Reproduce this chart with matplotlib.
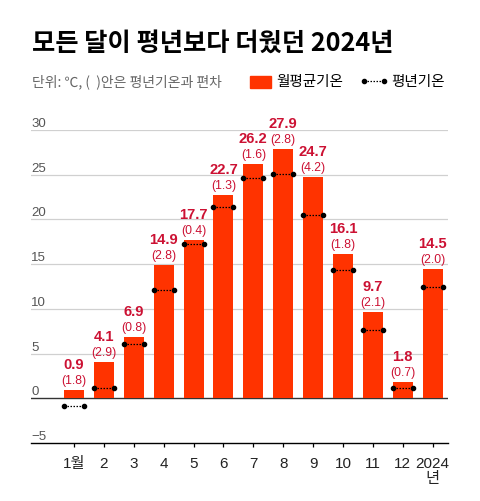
import matplotlib
matplotlib.use("Agg")
import matplotlib.pyplot as plt
import matplotlib.transforms as mtransforms

plt.rcParams['font.family'] = ['Noto Sans CJK KR', 'DejaVu Sans']
num_font = ['Liberation Sans', 'Noto Sans CJK KR']

months = ['1월', '2', '3', '4', '5', '6', '7', '8', '9', '10', '11', '12', '2024\n년']
avg_temp = [0.9, 4.1, 6.9, 14.9, 17.7, 22.7, 26.2, 27.9, 24.7, 16.1, 9.7, 1.8, 14.5]
deviation = [1.8, 2.9, 0.8, 2.8, 0.4, 1.3, 1.6, 2.8, 4.2, 1.8, 2.1, 0.7, 2.0]
normal_temp = [-0.9, 1.2, 6.1, 12.1, 17.3, 21.4, 24.6, 25.1, 20.5, 14.3, 7.6, 1.1, 12.5]
yticks = [-5, 0, 5, 10, 15, 20, 25, 30]

bar_color = '#ff3300'
label_color = '#cc1133'
w = 0.67

fig = plt.figure(figsize=(4.8, 5.02), dpi=100)
ax = fig.add_axes([0.0646, 0.1155, 0.8687, 0.6235])

x = list(range(len(months)))
ax.bar(x, avg_temp, width=w, color=bar_color, zorder=2)

# 평년기온 marker: dotted line with dots at the ends
for i, n in zip(x, normal_temp):
    ax.plot([i - w / 2, i + w / 2], [n, n], ls=(0, (1.2, 1.2)), lw=0.9,
            color='black', marker='o', ms=3, zorder=3)

# value labels
for i, v, d in zip(x, avg_temp, deviation):
    ax.annotate(f'{v}', (i, v), xytext=(0, 18.7), textcoords='offset points',
                ha='center', va='center', fontsize=10.6, fontweight='bold',
                family=num_font, color=label_color, annotation_clip=False)
    ax.annotate(f'({d})', (i, v), xytext=(0, 7.2), textcoords='offset points',
                ha='center', va='center', fontsize=8.8, family=num_font,
                color=label_color, annotation_clip=False)

ax.set_xlim(-1.438, 12.51)
ax.set_ylim(-5, 30)

# grid lines + y labels above the lines
trans = mtransforms.blended_transform_factory(ax.transAxes, ax.transData)
for t in yticks:
    if t == 0:
        ax.axhline(0, color='#333333', lw=1.0, zorder=1)
    elif t > -5:
        ax.axhline(t, color='#d0d0d0', lw=0.9, zorder=0)
    lbl = str(t).replace('-', '\u2212')
    ax.text(0.0, t + 0.12, lbl, transform=trans, ha='left', va='bottom',
            fontsize=9.5, family=num_font, color='#555555')
ax.set_yticks([])

for s in ['top', 'right', 'left']:
    ax.spines[s].set_visible(False)
ax.spines['bottom'].set_color('black')
ax.spines['bottom'].set_linewidth(1.0)

ax.set_xticks(x)
ax.set_xticklabels(months, fontsize=11, color='#222222', linespacing=1.15,
                   family=num_font)
ax.tick_params(axis='x', length=3, width=0.9, color='black', pad=6)

# title and subtitle / legend
fig.text(32 / 480, 1 - 43 / 502, '모든 달이 평년보다 더웠던 2024년', fontsize=18.2,
         fontweight='bold', color='black', ha='left', va='center')
fig.text(32 / 480, 1 - 82 / 502, '단위: ℃, (  )안은 평년기온과 편차', fontsize=10,
         color='#666666', ha='left', va='center')

fig.patches.append(plt.Rectangle((250 / 480, 1 - 89 / 502), 21 / 480, 12 / 502,
                                 transform=fig.transFigure, color=bar_color))
fig.text(276 / 480, 1 - 82 / 502, '월평균기온', fontsize=10.5, color='black',
         ha='left', va='center')
fig.lines.append(plt.Line2D([364 / 480, 384 / 480], [1 - 82 / 502, 1 - 82 / 502],
                            transform=fig.transFigure, ls=(0, (1.2, 1.2)), lw=0.9,
                            color='black', marker='o', ms=3))
fig.text(391 / 480, 1 - 82 / 502, '평년기온', fontsize=10.5, color='black',
         ha='left', va='center')

fig.savefig('out.png', dpi=100, facecolor='white')
